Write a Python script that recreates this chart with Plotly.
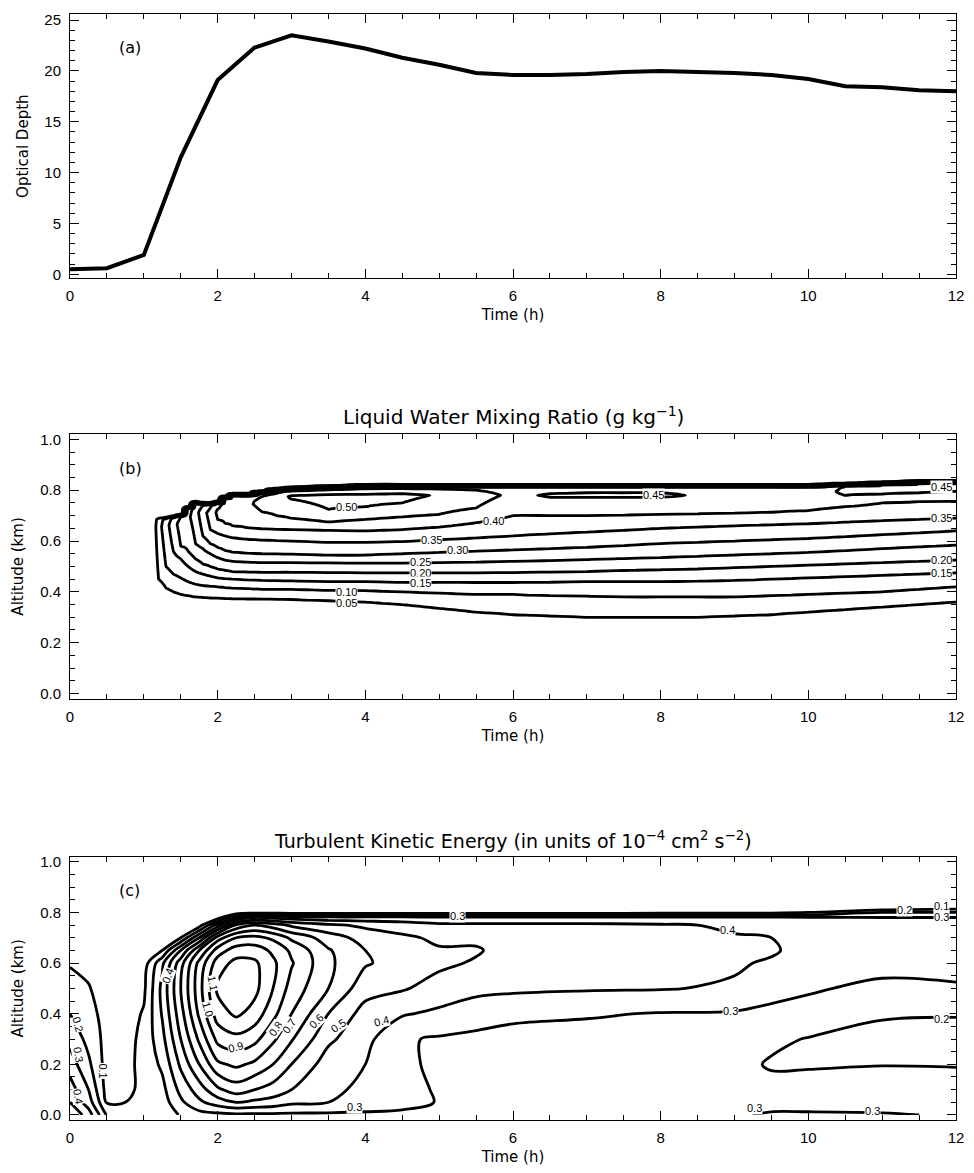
import numpy as np
import plotly.graph_objects as go

FONT = "Liberation Sans, Arial, sans-serif"
TFONT = "DejaVu Sans, Liberation Sans, sans-serif"

# ---------------- Panel (a): optical depth ----------------
time_a = [0.0, 0.5, 1.0, 1.5, 2.0, 2.5, 3.0, 3.5, 4.0, 4.5, 5.0, 5.5, 6.0,
          6.5, 7.0, 7.5, 8.0, 8.5, 9.0, 9.5, 10.0, 10.5, 11.0, 11.5, 12.0]
optical_depth = [0.5, 0.6, 1.9, 11.5, 19.1, 22.3, 23.5, 22.9, 22.2, 21.3, 20.6, 19.8, 19.6,
                 19.6, 19.7, 19.9, 20.0, 19.9, 19.8, 19.6, 19.2, 18.5, 18.4, 18.1, 18.0]

# ---------------- Panel (b): liquid water mixing ratio ----------------
# altitude (km) at which each contour level is crossed (lower side of cloud), per time column
N = None
b_time = [0.0, 1.1, 1.2, 1.3, 1.4, 1.5, 1.6, 1.7, 1.8, 1.9, 2.0, 2.1, 2.2, 2.4, 2.6, 2.8,
          3.0, 3.5, 4.0, 4.5, 5.0, 5.5, 6.0, 6.5, 7.0, 7.5, 8.0, 8.5, 9.0, 9.5, 10.0,
          10.5, 11.0, 11.5, 12.0]
b_levels = [0.05, 0.10, 0.15, 0.20, 0.25, 0.30, 0.35, 0.40, 0.45, 0.50]
b_h05 = [N, N, 0.45, 0.415, 0.40, 0.39, 0.385, 0.38, 0.378, 0.376, 0.375, 0.374, 0.373, 0.372,
         0.372, 0.371, 0.37, 0.365, 0.36, 0.35, 0.335, 0.32, 0.31, 0.305, 0.30, 0.30, 0.30,
         0.30, 0.305, 0.31, 0.32, 0.33, 0.34, 0.35, 0.36]
b_h10 = [N, N, N, 0.50, 0.47, 0.455, 0.44, 0.43, 0.425, 0.422, 0.42, 0.417, 0.415, 0.413,
         0.41, 0.41, 0.41, 0.406, 0.405, 0.40, 0.395, 0.39, 0.39, 0.385, 0.383, 0.38, 0.38,
         0.38, 0.38, 0.385, 0.39, 0.395, 0.40, 0.41, 0.42]
b_h15 = [N, N, N, N, 0.56, 0.53, 0.50, 0.48, 0.47, 0.462, 0.455, 0.452, 0.45, 0.447, 0.445,
         0.444, 0.443, 0.44, 0.44, 0.437, 0.437, 0.437, 0.437, 0.438, 0.44, 0.44, 0.44,
         0.442, 0.445, 0.45, 0.455, 0.46, 0.465, 0.47, 0.475]
b_h20 = [N, N, N, N, N, 0.58, 0.56, 0.53, 0.51, 0.50, 0.49, 0.485, 0.48, 0.478, 0.477,
         0.477, 0.477, 0.476, 0.475, 0.475, 0.475, 0.475, 0.476, 0.478, 0.48, 0.484, 0.487,
         0.49, 0.495, 0.50, 0.505, 0.51, 0.515, 0.52, 0.525]
b_h25 = [N, N, N, N, N, N, N, 0.59, 0.57, 0.55, 0.535, 0.525, 0.52, 0.517, 0.515, 0.515,
         0.515, 0.514, 0.513, 0.513, 0.515, 0.517, 0.52, 0.523, 0.527, 0.531, 0.535, 0.54,
         0.545, 0.55, 0.555, 0.562, 0.57, 0.577, 0.584]
b_h30 = [N, N, N, N, N, N, N, N, 0.62, 0.59, 0.575, 0.563, 0.556, 0.552, 0.55, 0.549,
         0.548, 0.544, 0.545, 0.55, 0.555, 0.56, 0.565, 0.57, 0.575, 0.582, 0.59, 0.595,
         0.60, 0.605, 0.61, 0.617, 0.625, 0.632, 0.64]
b_h35 = [N, N, N, N, N, N, N, N, N, 0.645, 0.63, 0.62, 0.613, 0.607, 0.604, 0.602, 0.60,
         0.595, 0.595, 0.598, 0.605, 0.612, 0.62, 0.628, 0.635, 0.642, 0.65, 0.655, 0.66,
         0.664, 0.668, 0.674, 0.68, 0.685, 0.69]
b_h40 = [N, N, N, N, N, N, N, N, N, N, 0.685, 0.67, 0.66, 0.652, 0.648, 0.646, 0.645,
         0.642, 0.64, 0.645, 0.655, 0.672, 0.70, 0.70, 0.70, 0.702, 0.705, 0.707, 0.71,
         0.713, 0.72, 0.735, 0.75, 0.755, 0.756]
b_h45 = [N, N, N, N, N, N, N, N, N, N, N, N, N, N, 0.715, 0.70, 0.69, 0.675, 0.685, 0.695,
         0.705, 0.73, N, 0.772, 0.772, 0.772, 0.772, N, N, N, N, 0.78, 0.785, 0.79, 0.795]
b_h50 = [N, N, N, N, N, N, N, N, N, N, N, N, N, N, N, N, 0.765, 0.725, 0.735, 0.75,
         N, N, N, N, N, N, N, N, N, N, N, N, N, N, N]
b_peak_val = [0, 0, 0.08, 0.13, 0.18, 0.22, 0.24, 0.28, 0.33, 0.37, 0.41, 0.42, 0.43, 0.44,
              0.47, 0.48, 0.51, 0.52, 0.52, 0.515, 0.495, 0.47, 0.44, 0.455, 0.46, 0.46, 0.46,
              0.445, 0.44, 0.44, 0.44, 0.455, 0.46, 0.465, 0.47]
b_peak_alt = [N, N, 0.655, 0.66, 0.665, 0.67, 0.695, 0.715, 0.71, 0.71, 0.715, 0.735, 0.745,
              0.745, 0.755, 0.765, 0.775, 0.775, 0.775, 0.78, 0.78, 0.78, 0.78, 0.78, 0.78,
              0.78, 0.78, 0.78, 0.78, 0.78, 0.78, 0.795, 0.80, 0.805, 0.805]
b_shoulder_val = [0, 0, 0.07, 0.12, 0.16, 0.20, 0.22, 0.26, 0.30, 0.34, 0.38, 0.40, 0.41, 0.42,
                  0.44, 0.44, 0.44, 0.44, 0.44, 0.44, 0.44, 0.44, 0.43, 0.43, 0.43, 0.43, 0.43,
                  0.43, 0.43, 0.43, 0.43, 0.452, 0.452, 0.452, 0.452]
b_top = [N, N, 0.70, 0.70, 0.705, 0.71, 0.74, 0.76, 0.755, 0.755, 0.76, 0.78, 0.79, 0.79,
         0.80, 0.81, 0.815, 0.82, 0.825, 0.825, 0.825, 0.825, 0.825, 0.825, 0.825, 0.825,
         0.825, 0.825, 0.825, 0.825, 0.825, 0.83, 0.835, 0.84, 0.84]

# ---------------- Panel (c): turbulent kinetic energy ----------------
c_alt = [0.0, 0.05, 0.1, 0.2, 0.3, 0.4, 0.5, 0.6, 0.65, 0.7, 0.75, 0.78, 0.8, 0.82, 0.9, 1.0]
c_time = [0.0, 0.25, 0.4, 0.5, 0.75, 1.0, 1.25, 1.5, 1.75, 2.0, 2.25, 2.5, 2.75, 3.0, 3.5,
          4.0, 4.5, 5.0, 5.5, 6.0, 7.0, 8.0, 9.0, 9.5, 10.0, 11.0, 12.0]
# one profile (values at c_alt) per time
c_profiles = [
    [0.60, 0.50, 0.45, 0.35, 0.27, 0.20, 0.15, 0.09, 0.06, 0.03, 0, 0, 0, 0, 0, 0],
    [0.45, 0.35, 0.30, 0.22, 0.17, 0.14, 0.11, 0.06, 0.03, 0, 0, 0, 0, 0, 0, 0],
    [0.30, 0.20, 0.16, 0.13, 0.11, 0.09, 0.06, 0.03, 0.01, 0, 0, 0, 0, 0, 0, 0],
    [0.19, 0.09, 0.06, 0.05, 0.05, 0.05, 0.04, 0.03, 0.02, 0, 0, 0, 0, 0, 0, 0],
    [0.14, 0.10, 0.08, 0.07, 0.06, 0.05, 0.04, 0.02, 0.01, 0, 0, 0, 0, 0, 0, 0],
    [0.12, 0.12, 0.12, 0.13, 0.13, 0.11, 0.08, 0.05, 0.03, 0, 0, 0, 0, 0, 0, 0],
    [0.13, 0.15, 0.17, 0.22, 0.27, 0.31, 0.33, 0.28, 0.10, 0, 0, 0, 0, 0, 0, 0],
    [0.21, 0.28, 0.33, 0.42, 0.50, 0.56, 0.60, 0.56, 0.40, 0.10, 0, 0, 0, 0, 0, 0],
    [0.26, 0.38, 0.45, 0.60, 0.72, 0.82, 0.86, 0.83, 0.70, 0.40, 0.05, 0, 0, 0, 0, 0],
    [0.27, 0.45, 0.58, 0.78, 0.93, 1.05, 1.12, 1.05, 0.95, 0.75, 0.35, 0.05, 0, 0, 0, 0],
    [0.28, 0.50, 0.65, 0.82, 0.97, 1.12, 1.17, 1.13, 1.05, 0.90, 0.62, 0.30, 0.02, 0, 0, 0],
    [0.28, 0.48, 0.60, 0.78, 0.93, 1.06, 1.13, 1.12, 1.05, 0.93, 0.70, 0.40, 0.05, 0, 0, 0],
    [0.28, 0.46, 0.56, 0.70, 0.82, 0.93, 1.00, 1.02, 0.98, 0.88, 0.65, 0.38, 0.05, 0, 0, 0],
    [0.28, 0.42, 0.50, 0.60, 0.71, 0.80, 0.86, 0.91, 0.88, 0.78, 0.58, 0.35, 0.05, 0, 0, 0],
    [0.28, 0.40, 0.43, 0.45, 0.52, 0.60, 0.70, 0.72, 0.71, 0.65, 0.52, 0.33, 0.05, 0, 0, 0],
    [0.28, 0.36, 0.37, 0.40, 0.43, 0.46, 0.54, 0.61, 0.60, 0.56, 0.48, 0.33, 0.05, 0, 0, 0],
    [0.28, 0.33, 0.33, 0.32, 0.31, 0.41, 0.51, 0.56, 0.55, 0.52, 0.45, 0.33, 0.05, 0, 0, 0],
    [0.27, 0.295, 0.29, 0.28, 0.29, 0.38, 0.46, 0.52, 0.51, 0.48, 0.42, 0.32, 0.05, 0, 0, 0],
    [0.27, 0.29, 0.28, 0.27, 0.28, 0.34, 0.43, 0.49, 0.51, 0.48, 0.42, 0.32, 0.05, 0, 0, 0],
    [0.26, 0.28, 0.27, 0.26, 0.27, 0.32, 0.42, 0.45, 0.46, 0.46, 0.42, 0.32, 0.05, 0, 0, 0],
    [0.27, 0.27, 0.26, 0.25, 0.26, 0.31, 0.41, 0.43, 0.45, 0.45, 0.42, 0.32, 0.05, 0, 0, 0],
    [0.28, 0.27, 0.26, 0.25, 0.26, 0.295, 0.405, 0.42, 0.43, 0.43, 0.41, 0.32, 0.06, 0, 0, 0],
    [0.29, 0.27, 0.25, 0.23, 0.25, 0.29, 0.39, 0.41, 0.41, 0.405, 0.39, 0.32, 0.06, 0, 0, 0],
    [0.31, 0.27, 0.23, 0.19, 0.22, 0.28, 0.33, 0.39, 0.41, 0.40, 0.38, 0.32, 0.07, 0, 0, 0],
    [0.31, 0.27, 0.24, 0.19, 0.195, 0.27, 0.31, 0.35, 0.37, 0.37, 0.36, 0.31, 0.10, 0, 0, 0],
    [0.31, 0.25, 0.23, 0.198, 0.17, 0.21, 0.28, 0.33, 0.34, 0.35, 0.34, 0.30, 0.20, 0, 0, 0],
    [0.29, 0.24, 0.215, 0.198, 0.17, 0.205, 0.29, 0.33, 0.34, 0.35, 0.34, 0.30, 0.20, 0.05, 0, 0],
]

# ---------------- build the liquid-water table from the read crossings ----------------
b_heights = [b_h05, b_h10, b_h15, b_h20, b_h25, b_h30, b_h35, b_h40, b_h45, b_h50]
alt_fine = np.linspace(0.0, 1.0, 401)
qgrid = np.zeros((len(alt_fine), len(b_time)))
for j in range(len(b_time)):
    if b_top[j] is None:
        continue
    zs = [b_h05[j] - 0.06]
    qs = [0.0]
    for lev, hl in zip(b_levels, b_heights):
        if hl[j] is not None:
            zs.append(hl[j])
            qs.append(lev)
    zs += [b_peak_alt[j], b_top[j] - 0.015, b_top[j]]
    qs += [b_peak_val[j], b_shoulder_val[j], 0.0]
    qgrid[:, j] = np.interp(alt_fine, zs, qs, left=0.0, right=0.0)

tke_grid = np.array(c_profiles).T  # rows = altitude, cols = time

fig = go.Figure()
fig.add_trace(go.Scatter(x=time_a, y=optical_depth, mode="lines",
                         line=dict(color="black", width=4), xaxis="x", yaxis="y",
                         hoverinfo="skip", showlegend=False))
fig.add_trace(go.Contour(x=b_time, y=alt_fine, z=qgrid, xaxis="x2", yaxis="y2",
                         contours=dict(start=0.05, end=0.501, size=0.05, coloring="none",
                                       showlabels=False),
                         line=dict(color="black", width=2.8, smoothing=0.8),
                         showscale=False, hoverinfo="skip"))
fig.add_trace(go.Contour(x=c_time, y=c_alt, z=tke_grid, xaxis="x3", yaxis="y3",
                         contours=dict(start=0.1, end=1.101, size=0.1, coloring="none",
                                       showlabels=False),
                         line=dict(color="black", width=2.8, smoothing=1.0),
                         showscale=False, hoverinfo="skip"))

def xax(anchor):
    return dict(anchor=anchor, range=[0, 12], tickvals=[0, 2, 4, 6, 8, 10, 12],
                ticks="inside", ticklen=9, tickwidth=1, tickcolor="black",
                minor=dict(dtick=0.5, ticks="inside", ticklen=5, tickcolor="black"),
                showline=True, linecolor="black", linewidth=1, mirror="ticks",
                showgrid=False, zeroline=False, ticklabelstandoff=4,
                tickfont=dict(family=FONT, size=15, color="black"),
                title=dict(text="Time (h)", font=dict(family=TFONT, size=15, color="black"),
                           standoff=6))

def yax(anchor, domain, rng, tv, tt, mdt, title):
    return dict(anchor=anchor, domain=domain, range=rng, tickvals=tv, ticktext=tt,
                ticks="inside", ticklen=9, tickwidth=1, tickcolor="black",
                minor=dict(dtick=mdt, ticks="inside", ticklen=5, tickcolor="black"),
                showline=True, linecolor="black", linewidth=1, mirror="ticks",
                showgrid=False, zeroline=False, ticklabelstandoff=5,
                tickfont=dict(family=FONT, size=15, color="black"),
                title=dict(text=title, font=dict(family=TFONT, size=15, color="black"),
                           standoff=12))

alt_ticks = [0, 0.2, 0.4, 0.6, 0.8, 1.0]
alt_text = ["0.0", "0.2", "0.4", "0.6", "0.8", "1.0"]
fig.update_layout(
    width=974, height=1173, paper_bgcolor="white", plot_bgcolor="white",
    margin=dict(l=70, r=12, t=10, b=50), showlegend=False,
    xaxis=xax("y"), xaxis2=xax("y2"), xaxis3=xax("y3"),
    yaxis=yax("x", [0.761, 1.0], [-0.4, 25.6], [0, 5, 10, 15, 20, 25],
              ["0", "5", "10", "15", "20", "25"], 1, "Optical Depth"),
    yaxis2=yax("x2", [0.381, 0.620], [-0.02, 1.02], alt_ticks, alt_text, 0.05, "Altitude (km)"),
    yaxis3=yax("x3", [0.0, 0.238], [-0.02, 1.02], alt_ticks, alt_text, 0.05, "Altitude (km)"),
)

ann = []
for lab, xr, yr in [("(a)", "x domain", "y domain"), ("(b)", "x2 domain", "y2 domain"),
                    ("(c)", "x3 domain", "y3 domain")]:
    ann.append(dict(text=lab, x=0.053, y=0.915, xref=xr, yref=yr, showarrow=False,
                    font=dict(family=TFONT, size=16, color="black")))
ann.append(dict(text="Liquid Water Mixing Ratio (g kg<sup>−1</sup>)", x=0.5, y=1.0,
                xref="x2 domain", yref="y2 domain", yanchor="bottom", yshift=3,
                showarrow=False, font=dict(family=TFONT, size=20, color="black")))
ann.append(dict(text="Turbulent Kinetic Energy (in units of 10<sup>−4</sup> cm<sup>2</sup> s<sup>−2</sup>)",
                x=0.5, y=1.0, xref="x3 domain", yref="y3 domain", yanchor="bottom", yshift=3,
                showarrow=False, font=dict(family=TFONT, size=19, color="black")))

# contour labels (text placed on the lines)
b_label_text = ["0.50", "0.45", "0.40", "0.35", "0.30", "0.25", "0.20", "0.15", "0.10", "0.05",
                "0.35", "0.20", "0.15", "0.45"]
b_label_x = [3.74, 7.9, 5.74, 4.89, 5.25, 4.75, 4.75, 4.75, 3.74, 3.74, 11.8, 11.8, 11.8, 11.8]
b_label_y = [0.735, 0.782, 0.68, 0.605, 0.565, 0.518, 0.476, 0.434, 0.40, 0.355, 0.69, 0.525,
             0.475, 0.812]
for t, x, y in zip(b_label_text, b_label_x, b_label_y):
    ann.append(dict(text=t, x=x, y=y, xref="x2", yref="y2", showarrow=False, bgcolor="white",
                    borderpad=0, font=dict(family=FONT, size=11, color="black")))

c_label_text = ["1.1", "1.0", "0.9", "0.8", "0.7", "0.6", "0.5", "0.4", "0.4", "0.4", "0.3",
                "0.3", "0.3", "0.3", "0.2", "0.2", "0.1", "0.3", "0.3", "0.1", "0.2", "0.3", "0.4"]
c_label_x = [1.93, 1.87, 2.24, 2.78, 2.97, 3.34, 3.63, 4.22, 1.32, 8.9, 8.95, 3.85, 9.27,
             10.87, 11.8, 11.3, 11.8, 11.8, 5.25, 0.45, 0.11, 0.11, 0.11]
c_label_y = [0.52, 0.42, 0.27, 0.34, 0.35, 0.37, 0.35, 0.37, 0.55, 0.73, 0.41, 0.03, 0.027,
             0.015, 0.378, 0.81, 0.825, 0.783, 0.785, 0.175, 0.36, 0.24, 0.075]
c_label_angle = [80, 75, -15, -55, -55, -45, -35, -15, -70, 0, 0, 0, 0, 0, 0, 0, 0, 0, 0, 90,
                 75, 80, 80]
for t, x, y, a in zip(c_label_text, c_label_x, c_label_y, c_label_angle):
    ann.append(dict(text=t, x=x, y=y, xref="x3", yref="y3", showarrow=False, bgcolor="white",
                    borderpad=0, textangle=a, font=dict(family=FONT, size=11, color="black")))

fig.update_layout(annotations=ann)
fig.write_html("out.html", config={"displayModeBar": False},
               post_script="document.body.style.margin='0';document.body.style.overflow='hidden';")
